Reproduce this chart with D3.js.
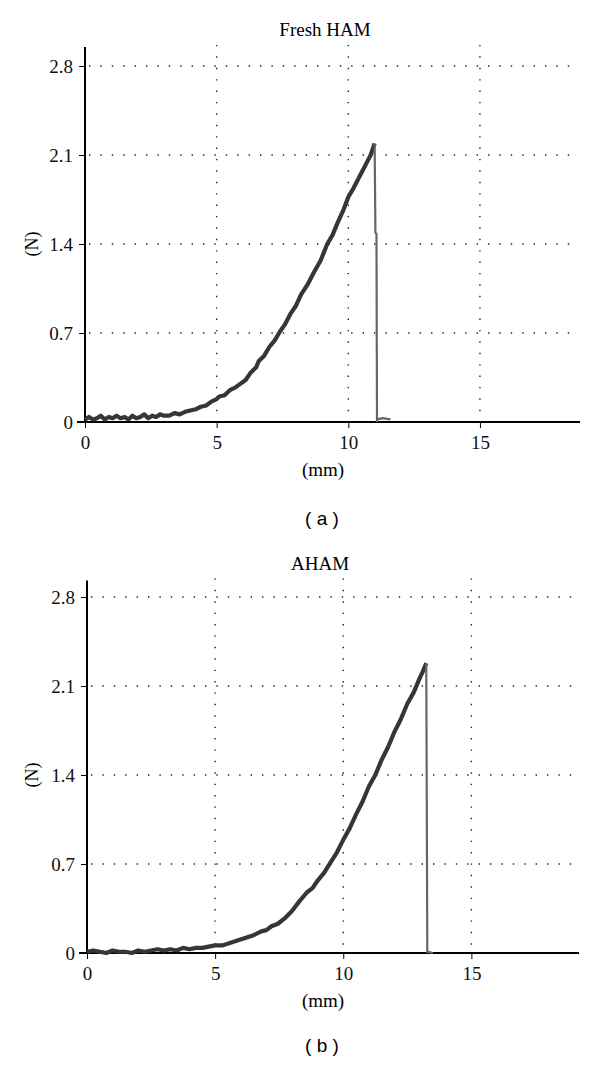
<!DOCTYPE html>
<html>
<head>
<meta charset="utf-8">
<script src="https://cdn.jsdelivr.net/npm/d3@7"></script>
<style>
  body { margin: 0; background: #fff; }
  svg { display: block; }
</style>
</head>
<body>
<div id="my_dataviz"></div>
<script>
// tick labels shared by both panels
const xTicks = [0, 5, 10, 15];
const yTicks = [0, 0.7, 1.4, 2.1, 2.8];

// (a) Fresh HAM, load curve
const freshX = [0, 0.15, 0.3, 0.45, 0.6, 0.75, 0.9, 1.05, 1.2, 1.35, 1.5, 1.65, 1.8, 1.95, 2.1, 2.25, 2.4, 2.55, 2.7, 2.85, 3.0,
  3.2, 3.4, 3.6, 3.8, 4.0, 4.2, 4.4, 4.6, 4.8, 5.0, 5.1, 5.3, 5.5, 5.7, 5.9, 6.1, 6.3, 6.5, 6.6, 6.8, 7.0, 7.2, 7.4, 7.6, 7.8, 8.0, 8.2,
  8.45, 8.7, 8.95, 9.2, 9.4, 9.6, 9.8, 10.0, 10.2, 10.4, 10.55, 10.7, 10.85, 11.0];
const freshY = [0.02, 0.04, 0.02, 0.03, 0.05, 0.02, 0.04, 0.03, 0.05, 0.03, 0.04, 0.02, 0.05, 0.03, 0.04, 0.06, 0.03, 0.05, 0.04, 0.06, 0.05,
  0.05, 0.07, 0.06, 0.08, 0.09, 0.10, 0.12, 0.13, 0.16, 0.18, 0.20, 0.21, 0.25, 0.27, 0.30, 0.33, 0.39, 0.43, 0.48, 0.52, 0.59, 0.64, 0.71, 0.77, 0.85, 0.91, 1.00,
  1.08, 1.18, 1.27, 1.40, 1.47, 1.57, 1.66, 1.77, 1.84, 1.92, 1.98, 2.04, 2.10, 2.19];
// failure drop after the peak
const freshDropX = [11.0, 11.03, 11.07, 11.09, 11.09, 11.3, 11.6];
const freshDropY = [2.19, 1.49, 1.48, 0.0, 0.02, 0.03, 0.02];

// (b) AHAM
const ahamX = [0, 0.25, 0.5, 0.75, 1.0, 1.25, 1.5, 1.75, 2.0, 2.25, 2.5, 2.75, 3.0, 3.25, 3.5, 3.75, 4.0, 4.25, 4.5, 4.75, 5.0,
  5.3, 5.6, 5.9, 6.2, 6.5, 6.8, 7.0, 7.2, 7.45, 7.7, 8.0, 8.3, 8.6, 8.8, 9.0, 9.25, 9.5, 9.75, 10.0, 10.25, 10.5, 10.75, 11.0,
  11.25, 11.5, 11.75, 12.0, 12.25, 12.5, 12.75, 13.0, 13.12, 13.24];
const ahamY = [0.01, 0.02, 0.01, 0.00, 0.02, 0.01, 0.01, 0.00, 0.02, 0.01, 0.02, 0.03, 0.02, 0.03, 0.02, 0.04, 0.03, 0.04, 0.04, 0.05, 0.06,
  0.06, 0.08, 0.10, 0.12, 0.14, 0.17, 0.18, 0.21, 0.23, 0.27, 0.33, 0.41, 0.48, 0.51, 0.57, 0.63, 0.71, 0.79, 0.89, 0.98, 1.09, 1.19, 1.31,
  1.40, 1.52, 1.62, 1.74, 1.84, 1.96, 2.05, 2.17, 2.22, 2.28];
const ahamDropX = [13.24, 13.28, 13.3, 13.5];
const ahamDropY = [2.28, 0.0, 0.01, 0.0];

const W = 600, H = 1067;

const svg = d3.select("#my_dataviz")
  .append("svg")
    .attr("width", W)
    .attr("height", H);

const serif = "'Liberation Serif', 'Times New Roman', serif";

function panel(p) {
  const g = svg.append("g");

  const x = d3.scaleLinear().domain([0, p.xMax]).range([p.left, p.right]);
  const y = d3.scaleLinear().domain([0, 2.8]).range([p.bottom, p.y28]);
  const yTop = y(p.yMax);

  // dotted grid
  g.selectAll(".hgrid")
    .data(yTicks.filter(d => d > 0))
    .join("line")
      .attr("x1", p.left + 4).attr("x2", p.right - 6)
      .attr("y1", d => y(d)).attr("y2", d => y(d))
      .attr("stroke", "#222").attr("stroke-width", 1.4)
      .attr("stroke-dasharray", "1.4,10");
  g.selectAll(".vgrid")
    .data(xTicks.filter(d => d > 0))
    .join("line")
      .attr("x1", d => x(d)).attr("x2", d => x(d))
      .attr("y1", yTop - 2).attr("y2", p.bottom - 4)
      .attr("stroke", "#222").attr("stroke-width", 1.4)
      .attr("stroke-dasharray", "1.4,10");

  // axes
  const yAxis = g.append("g")
    .attr("transform", `translate(${p.left},0)`)
    .call(d3.axisLeft(y).tickValues(yTicks).tickSize(6).tickPadding(6)
      .tickFormat(d => d === 0 ? "0" : d3.format(".1f")(d)));
  yAxis.select(".domain").attr("d", `M0,${yTop}V${p.bottom}`).attr("stroke-width", 2);
  yAxis.selectAll("text").style("font-family", serif).style("font-size", "19px").attr("fill", "#111");

  const xAxis = g.append("g")
    .attr("transform", `translate(0,${p.bottom})`)
    .call(d3.axisBottom(x).tickValues(xTicks).tickSize(6).tickPadding(8));
  xAxis.select(".domain").attr("d", `M${p.left - 8},0H${p.right}`).attr("stroke-width", 2);
  xAxis.selectAll("text").style("font-family", serif).style("font-size", "19px").attr("fill", "#111");

  // curve
  const line = d3.line().x(d => x(d[0])).y(d => y(d[1]));
  g.append("path")
    .datum(p.xs.map((v, i) => [v, p.ys[i]]))
    .attr("fill", "none").attr("stroke", "#363636").attr("stroke-width", 4.2)
    .attr("stroke-linejoin", "round")
    .attr("d", line);
  g.append("path")
    .datum(p.dx.map((v, i) => [v, p.dy[i]]))
    .attr("fill", "none").attr("stroke", "#666").attr("stroke-width", 2.2)
    .attr("d", line);

  // labels
  g.append("text").attr("x", p.titleX).attr("y", p.titleY).text(p.title)
    .attr("text-anchor", "middle").style("font-family", serif).style("font-size", "19px");
  g.append("text").attr("transform", `translate(38,${y(1.4)}) rotate(-90)`).text("(N)")
    .attr("text-anchor", "middle").style("font-family", serif).style("font-size", "18px");
  g.append("text").attr("x", 323).attr("y", p.bottom + 54).text("(mm)")
    .attr("text-anchor", "middle").style("font-family", serif).style("font-size", "19px");
  g.append("text").attr("x", 322).attr("y", p.bottom + p.capDy).text(p.caption)
    .attr("text-anchor", "middle").style("font-family", "'Liberation Sans', Arial, sans-serif").style("font-size", "19px");
}

panel({ left: 85, right: 580, xMax: 18.8, bottom: 422, y28: 66, yMax: 2.95,
  xs: freshX, ys: freshY, dx: freshDropX, dy: freshDropY,
  title: "Fresh HAM", titleX: 325, titleY: 36, caption: "( a )", capDy: 103 });

panel({ left: 87, right: 579, xMax: 19.2, bottom: 953, y28: 597, yMax: 2.93,
  xs: ahamX, ys: ahamY, dx: ahamDropX, dy: ahamDropY,
  title: "AHAM", titleX: 320, titleY: 570, caption: "( b )", capDy: 99 });
</script>
</body>
</html>
